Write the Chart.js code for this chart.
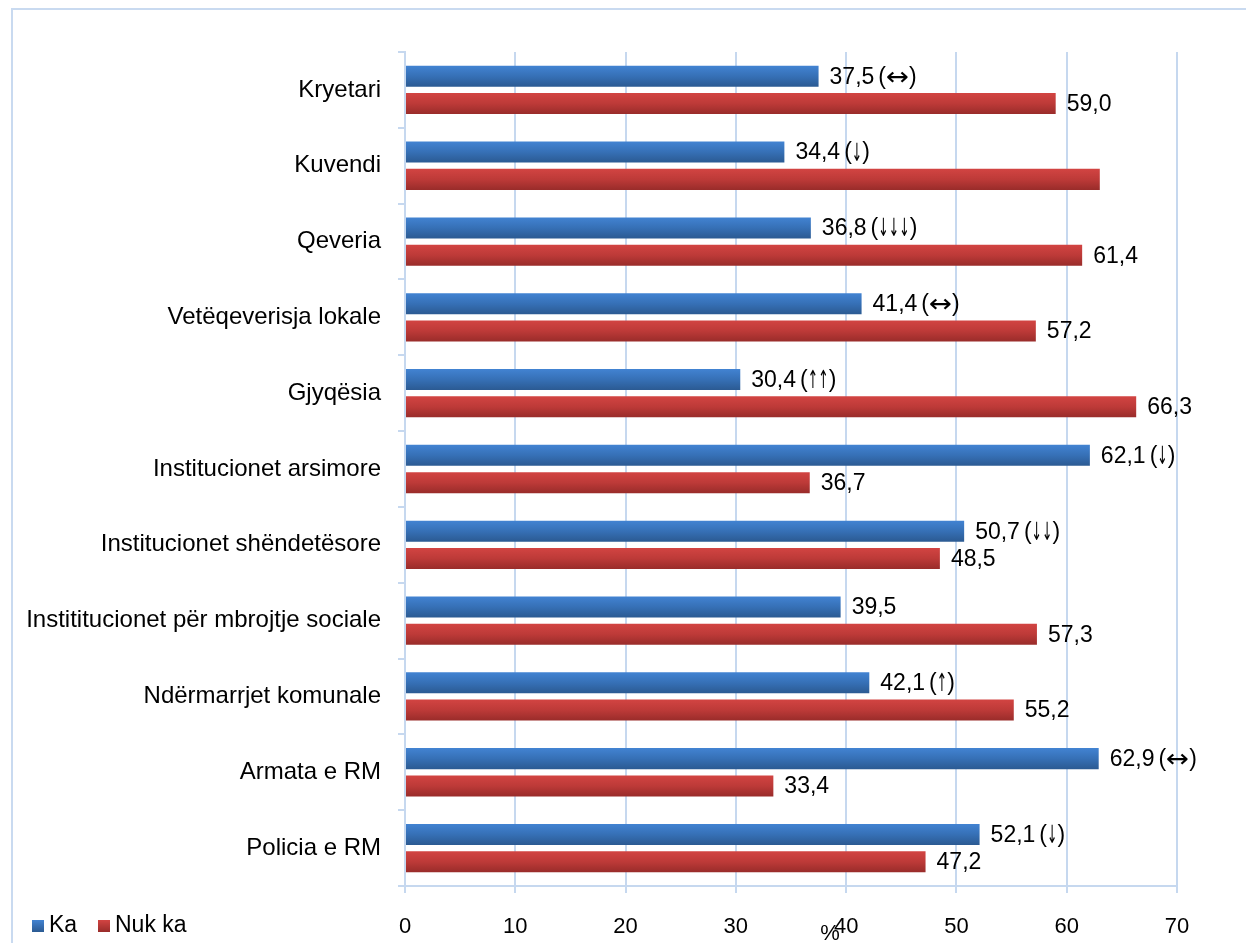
<!DOCTYPE html>
<html>
<head>
<meta charset="utf-8">
<script src="https://cdn.jsdelivr.net/npm/chart.js@4.4.0/dist/chart.umd.min.js"></script>
<style>
  html, body { margin: 0; padding: 0; background: #fff; overflow: hidden; }
  #kuti { position: relative; width: 1246px; height: 943px; }
  #korniza { position: absolute; left: 11px; top: 8px; width: 1260px; height: 960px; border: 2px solid #c9daf0; box-sizing: border-box; }
  canvas { position: absolute; left: 0; top: 0; }
</style>
</head>
<body>
<div id="kuti">
  <div id="korniza"></div>
  <canvas id="grafiku" width="1246" height="943"></canvas>
</div>
<script>
const kategorite = [
  "Kryetari",
  "Kuvendi",
  "Qeveria",
  "Vetëqeverisja lokale",
  "Gjyqësia",
  "Institucionet arsimore",
  "Institucionet shëndetësore",
  "Instititucionet për mbrojtje sociale",
  "Ndërmarrjet komunale",
  "Armata e RM",
  "Policia e RM"
];
const vleratKa = [37.5, 34.4, 36.8, 41.4, 30.4, 62.1, 50.7, 39.5, 42.1, 62.9, 52.1];
const vleratNukKa = [59.0, 63.0, 61.4, 57.2, 66.3, 36.7, 48.5, 57.3, 55.2, 33.4, 47.2];
const etiketatKa = ["37,5 (↔)", "34,4 (↓)", "36,8 (↓↓↓)", "41,4 (↔)", "30,4 (↑↑)", "62,1 (↓)",
  "50,7 (↓↓)", "39,5", "42,1 (↑)", "62,9 (↔)", "52,1 (↓)"];
const etiketatNukKa = ["59,0", "", "61,4", "57,2", "66,3", "36,7", "48,5", "57,3", "55,2", "33,4", "47,2"];
const tiketX = [0, 10, 20, 30, 40, 50, 60, 70];

const ngjyraKa = ["#4283d2", "#3670b6", "#2b5a92"];
const ngjyraNukKa = ["#d24442", "#bd3a38", "#992c2a"];
const fonti = "'Liberation Sans', Arial, sans-serif";
const KP = 0.72;
const BP = 0.77;
const ngjyraRrjeta = "#c6d8ef";

function gradienti(ctx, ngjyrat) {
  const chart = ctx.chart;
  const y = chart.scales && chart.scales.y;
  if (ctx.type !== "data" || !y || !y.height) return ngjyrat[1];
  const gjeresia = y.height / kategorite.length;
  const vendi = gjeresia * KP / 2;
  const qendra = y.getPixelForValue(ctx.dataIndex) + (ctx.datasetIndex === 0 ? -vendi / 2 : vendi / 2);
  const gjysma = vendi * BP / 2;
  const g = chart.ctx.createLinearGradient(0, qendra - gjysma, 0, qendra + gjysma);
  g.addColorStop(0, ngjyrat[0]);
  g.addColorStop(0.5, ngjyrat[1]);
  g.addColorStop(1, ngjyrat[2]);
  return g;
}

// shkruan tekstin; shigjetat me DejaVu, te ngushtuara
function shkruaj(c, tekst, x, y) {
  for (const ch of tekst) {
    if ("↔↓↑".includes(ch)) {
      const sx = ch === "↔" ? 1.1 : 0.5;
      c.font = "25px 'DejaVu Sans', sans-serif";
      c.save();
      c.translate(x, y + 1);
      c.scale(sx, 1);
      c.fillText(ch, 0, 0);
      c.restore();
      x += c.measureText(ch).width * sx;
    } else if (ch === " ") {
      x += 4;
    } else {
      c.font = "23px " + fonti;
      c.fillText(ch, x, y);
      x += c.measureText(ch).width;
    }
  }
}

const etiketatPlugin = {
  id: "etiketat",
  afterDatasetsDraw(chart) {
    const c = chart.ctx;
    const teksti = [etiketatKa, etiketatNukKa];
    c.save();
    c.fillStyle = "#000";
    c.textBaseline = "middle";
    c.textAlign = "left";
    chart.data.datasets.forEach((ds, i) => {
      chart.getDatasetMeta(i).data.forEach((el, j) => {
        if (teksti[i][j]) shkruaj(c, teksti[i][j], el.x + 11, el.y + 1);
      });
    });

    // titulli i boshtit
    const x = chart.scales.x;
    c.font = "22px " + fonti;
    c.textAlign = "center";
    c.fillText("%", (x.left + x.right) / 2 + 39, 934);

    // legjenda
    let lx = 32;
    const ly = 926;
    c.font = "23px " + fonti;
    chart.data.datasets.forEach((ds, i) => {
      const ngj = i === 0 ? ngjyraKa : ngjyraNukKa;
      const g = c.createLinearGradient(0, ly - 6, 0, ly + 6);
      g.addColorStop(0, ngj[0]);
      g.addColorStop(1, ngj[2]);
      c.fillStyle = g;
      c.fillRect(lx, ly - 6, 12, 12);
      c.fillStyle = "#000";
      c.textAlign = "left";
      c.fillText(ds.label, lx + 17, ly);
      lx += 66;
    });
    c.restore();
  }
};

new Chart(document.getElementById("grafiku"), {
  type: "bar",
  data: {
    labels: kategorite,
    datasets: [
      {
        label: "Ka",
        data: vleratKa,
        backgroundColor: (ctx) => gradienti(ctx, ngjyraKa),
        categoryPercentage: KP,
        barPercentage: BP
      },
      {
        label: "Nuk ka",
        data: vleratNukKa,
        backgroundColor: (ctx) => gradienti(ctx, ngjyraNukKa),
        categoryPercentage: KP,
        barPercentage: BP
      }
    ]
  },
  options: {
    indexAxis: "y",
    responsive: false,
    animation: false,
    layout: { padding: { top: 52, right: 69, bottom: 0, left: 0 } },
    plugins: {
      legend: { display: false },
      tooltip: { enabled: false }
    },
    scales: {
      x: {
        min: 0,
        max: 70,
        afterBuildTicks: (s) => { s.ticks = tiketX.map((v) => ({ value: v })); },
        afterFit: (s) => { s.height = 57; },
        grid: { color: ngjyraRrjeta, lineWidth: 2, tickLength: 7 },
        border: { color: ngjyraRrjeta, width: 2 },
        ticks: { color: "#000", font: { family: fonti, size: 22 }, padding: 21, maxRotation: 0 }
      },
      y: {
        afterFit: (s) => { s.width = 405; },
        grid: { color: ngjyraRrjeta, lineWidth: 2, drawOnChartArea: false, tickLength: 7 },
        border: { color: ngjyraRrjeta, width: 2 },
        ticks: { color: "#000", font: { family: fonti, size: 24 }, padding: 17 }
      }
    }
  },
  plugins: [etiketatPlugin]
});
</script>
</body>
</html>
